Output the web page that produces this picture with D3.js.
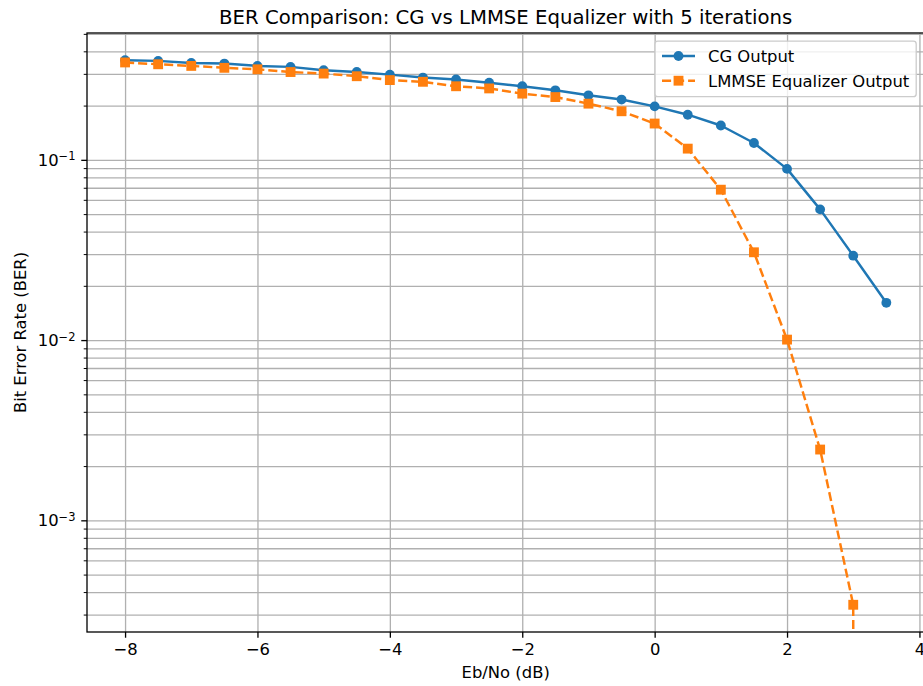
<!DOCTYPE html>
<html>
<head>
<meta charset="utf-8">
<script src="https://cdn.jsdelivr.net/npm/d3@7"></script>
<style>
  body { margin: 0; background: #fff; }
  text { font-family: "DejaVu Sans", sans-serif; fill: #000; }
</style>
</head>
<body>
<svg id="chart" width="923" height="686"></svg>
<script>
// data
var ebno = [-8, -7.5, -7, -6.5, -6, -5.5, -5, -4.5, -4, -3.5, -3, -2.5, -2, -1.5, -1, -0.5, 0, 0.5, 1, 1.5, 2, 2.5, 3, 3.5];
var berCG = [0.357, 0.354, 0.345, 0.342, 0.332, 0.328, 0.314, 0.307, 0.297, 0.286, 0.279, 0.268,
             0.256, 0.243, 0.228, 0.216, 0.198, 0.178, 0.155, 0.124, 0.0891, 0.0531, 0.0294, 0.0161];
var berLMMSE = [0.347, 0.339, 0.332, 0.324, 0.318, 0.307, 0.301, 0.291, 0.277, 0.271, 0.256, 0.249,
                0.233, 0.223, 0.205, 0.186, 0.159, 0.1154, 0.0683, 0.0307, 0.01006, 0.00247, 0.00034, 0];
var seriesNames = ["CG Output", "LMMSE Equalizer Output"];
var xTicks = [-8, -6, -4, -2, 0, 2, 4];
var yMajorTicks = [1e-3, 1e-2, 1e-1];

var pt = 1.64; // px per point
var m = { left: 87, right: 924.4, top: 33, bottom: 632 };
var width = m.right - m.left, height = m.bottom - m.top;

var svg = d3.select("#chart");

// x domain with 5% margin like matplotlib
var xPad = (d3.max(ebno) - d3.min(ebno)) * 0.05;
var x = d3.scaleLinear().domain([d3.min(ebno) - xPad, d3.max(ebno) + xPad]).range([m.left, m.right]);

// y domain: 5% margin in log space
var allPos = berCG.concat(berLMMSE).filter(d => d > 0);
var lmin = Math.log10(d3.min(allPos)), lmax = Math.log10(d3.max(allPos));
var lpad = (lmax - lmin) * 0.05;
var y = d3.scaleLog().domain([Math.pow(10, lmin - lpad), Math.pow(10, lmax + lpad)]).range([m.bottom, m.top]);

var yMinor = [];
for (var e = -5; e <= 0; e++) {
  for (var k = 2; k <= 9; k++) {
    var v = k * Math.pow(10, e);
    if (v >= y.domain()[0] && v <= y.domain()[1]) yMinor.push(v);
  }
}

// grid
var gridColor = "#b0b0b0";
svg.append("g")
  .attr("transform", "translate(0," + m.bottom + ")")
  .call(d3.axisBottom(x).tickValues(xTicks).tickSize(-height).tickFormat(""))
  .call(g => g.select(".domain").remove())
  .selectAll("line").attr("stroke", gridColor).attr("stroke-width", 0.8 * pt);

svg.append("g")
  .attr("transform", "translate(" + m.left + ",0)")
  .call(d3.axisLeft(y).tickValues(yMajorTicks.concat(yMinor)).tickSize(-width).tickFormat(""))
  .call(g => g.select(".domain").remove())
  .selectAll("line").attr("stroke", gridColor).attr("stroke-width", 0.8 * pt);

// clip for the lines
svg.append("clipPath").attr("id", "plotclip")
  .append("rect").attr("x", m.left).attr("y", m.top).attr("width", width).attr("height", height);

var plot = svg.append("g").attr("clip-path", "url(#plotclip)");

var line = d3.line()
  .x((d, i) => x(ebno[i]))
  .y(d => y(Math.max(d, 1e-300)));   // zero BER runs off the bottom, like a clipped log plot

var msize = 6 * pt;

// CG
plot.append("path")
  .datum(berCG)
  .attr("d", line)
  .attr("fill", "none")
  .attr("stroke", "#1f77b4")
  .attr("stroke-width", 1.5 * pt)
  .attr("stroke-linejoin", "round");

plot.selectAll(".cg")
  .data(berCG)
  .enter()
  .append("circle")
  .attr("class", "cg")
  .attr("cx", (d, i) => x(ebno[i]))
  .attr("cy", d => y(d))
  .attr("r", msize / 2)
  .style("fill", "#1f77b4");

// LMMSE
plot.append("path")
  .datum(berLMMSE)
  .attr("d", line)
  .attr("fill", "none")
  .attr("stroke", "#ff7f0e")
  .attr("stroke-width", 1.5 * pt)
  .attr("stroke-dasharray", (3.7 * 1.5 * pt) + "," + (1.6 * 1.5 * pt));

plot.selectAll(".lm")
  .data(berLMMSE.map((d, i) => [ebno[i], d]).filter(d => d[1] > 0))
  .enter()
  .append("rect")
  .attr("class", "lm")
  .attr("x", d => x(d[0]) - msize / 2)
  .attr("y", d => y(d[1]) - msize / 2)
  .attr("width", msize)
  .attr("height", msize)
  .style("fill", "#ff7f0e");

// axes
var fontSize = 10 * pt;
var xAxis = svg.append("g")
  .attr("transform", "translate(0," + m.bottom + ")")
  .call(d3.axisBottom(x).tickValues(xTicks).tickSize(3.5 * pt).tickPadding(3.5 * pt));
xAxis.select(".domain").remove();
xAxis.selectAll("line").attr("stroke", "#000").attr("stroke-width", 0.8 * pt);
xAxis.selectAll("text").style("font-size", fontSize + "px").style("font-family", "DejaVu Sans").attr("fill", "#000");

var yAxis = svg.append("g")
  .attr("transform", "translate(" + m.left + ",0)")
  .call(d3.axisLeft(y).tickValues(yMajorTicks).tickSize(3.5 * pt).tickPadding(3.5 * pt).tickFormat(""));
yAxis.select(".domain").remove();
yAxis.selectAll("line").attr("stroke", "#000").attr("stroke-width", 0.8 * pt);
yAxis.selectAll("text")
  .style("font-size", fontSize + "px")
  .style("font-family", "DejaVu Sans")
  .attr("fill", "#000")
  .each(function(d) {
    var t = d3.select(this);
    var ex = Math.round(Math.log10(d));
    t.append("tspan").text("10");
    t.append("tspan")
      .attr("dy", "-0.45em")
      .style("font-size", (fontSize * 0.7) + "px")
      .text((ex < 0 ? "\u2212" : "") + Math.abs(ex));
  });

var yMinorAxis = svg.append("g")
  .attr("transform", "translate(" + m.left + ",0)")
  .call(d3.axisLeft(y).tickValues(yMinor).tickSize(2 * pt).tickFormat(""));
yMinorAxis.select(".domain").remove();
yMinorAxis.selectAll("line").attr("stroke", "#000").attr("stroke-width", 0.6 * pt);

// spines
svg.append("rect")
  .attr("x", m.left).attr("y", m.top).attr("width", width).attr("height", height)
  .attr("fill", "none").attr("stroke", "#000").attr("stroke-width", 0.8 * pt);

// labels
svg.append("text")
  .attr("x", (m.left + m.right) / 2)
  .attr("y", 24)
  .attr("text-anchor", "middle")
  .style("font-size", (12 * pt) + "px")
  .text("BER Comparison: CG vs LMMSE Equalizer with 5 iterations");

svg.append("text")
  .attr("x", (m.left + m.right) / 2)
  .attr("y", 672)
  .attr("dy", "0.36em")
  .attr("text-anchor", "middle")
  .style("font-size", fontSize + "px")
  .text("Eb/No (dB)");

svg.append("text")
  .attr("transform", "translate(20," + ((m.top + m.bottom) / 2) + ") rotate(-90)")
  .attr("dy", "0.36em")
  .attr("text-anchor", "middle")
  .style("font-size", fontSize + "px")
  .text("Bit Error Rate (BER)");

// Legend
var legend = svg.append("g");
legend.append("rect")
  .attr("x", 655).attr("y", 41.2).attr("width", 261.2).attr("height", 55.5)
  .attr("rx", 2.8).attr("ry", 2.8)
  .attr("fill", "#fff").attr("fill-opacity", 0.8)
  .attr("stroke", "#cccccc").attr("stroke-width", 0.8 * pt);

var ly = [56, 80.7];
legend.append("line").attr("x1", 662).attr("x2", 695).attr("y1", ly[0]).attr("y2", ly[0])
  .attr("stroke", "#1f77b4").attr("stroke-width", 1.5 * pt);
legend.append("circle").attr("cx", 678.5).attr("cy", ly[0]).attr("r", msize / 2).style("fill", "#1f77b4");
legend.append("line").attr("x1", 662).attr("x2", 695).attr("y1", ly[1]).attr("y2", ly[1])
  .attr("stroke", "#ff7f0e").attr("stroke-width", 1.5 * pt)
  .attr("stroke-dasharray", (3.7 * 1.5 * pt) + "," + (1.6 * 1.5 * pt));
legend.append("rect").attr("x", 678.5 - msize / 2).attr("y", ly[1] - msize / 2)
  .attr("width", msize).attr("height", msize).style("fill", "#ff7f0e");
legend.selectAll(".ltext")
  .data(seriesNames)
  .enter()
  .append("text")
  .attr("class", "ltext")
  .attr("x", 708)
  .attr("y", (d, i) => ly[i])
  .attr("dy", "0.36em")
  .style("font-size", fontSize + "px")
  .text(d => d);
</script>
</body>
</html>
